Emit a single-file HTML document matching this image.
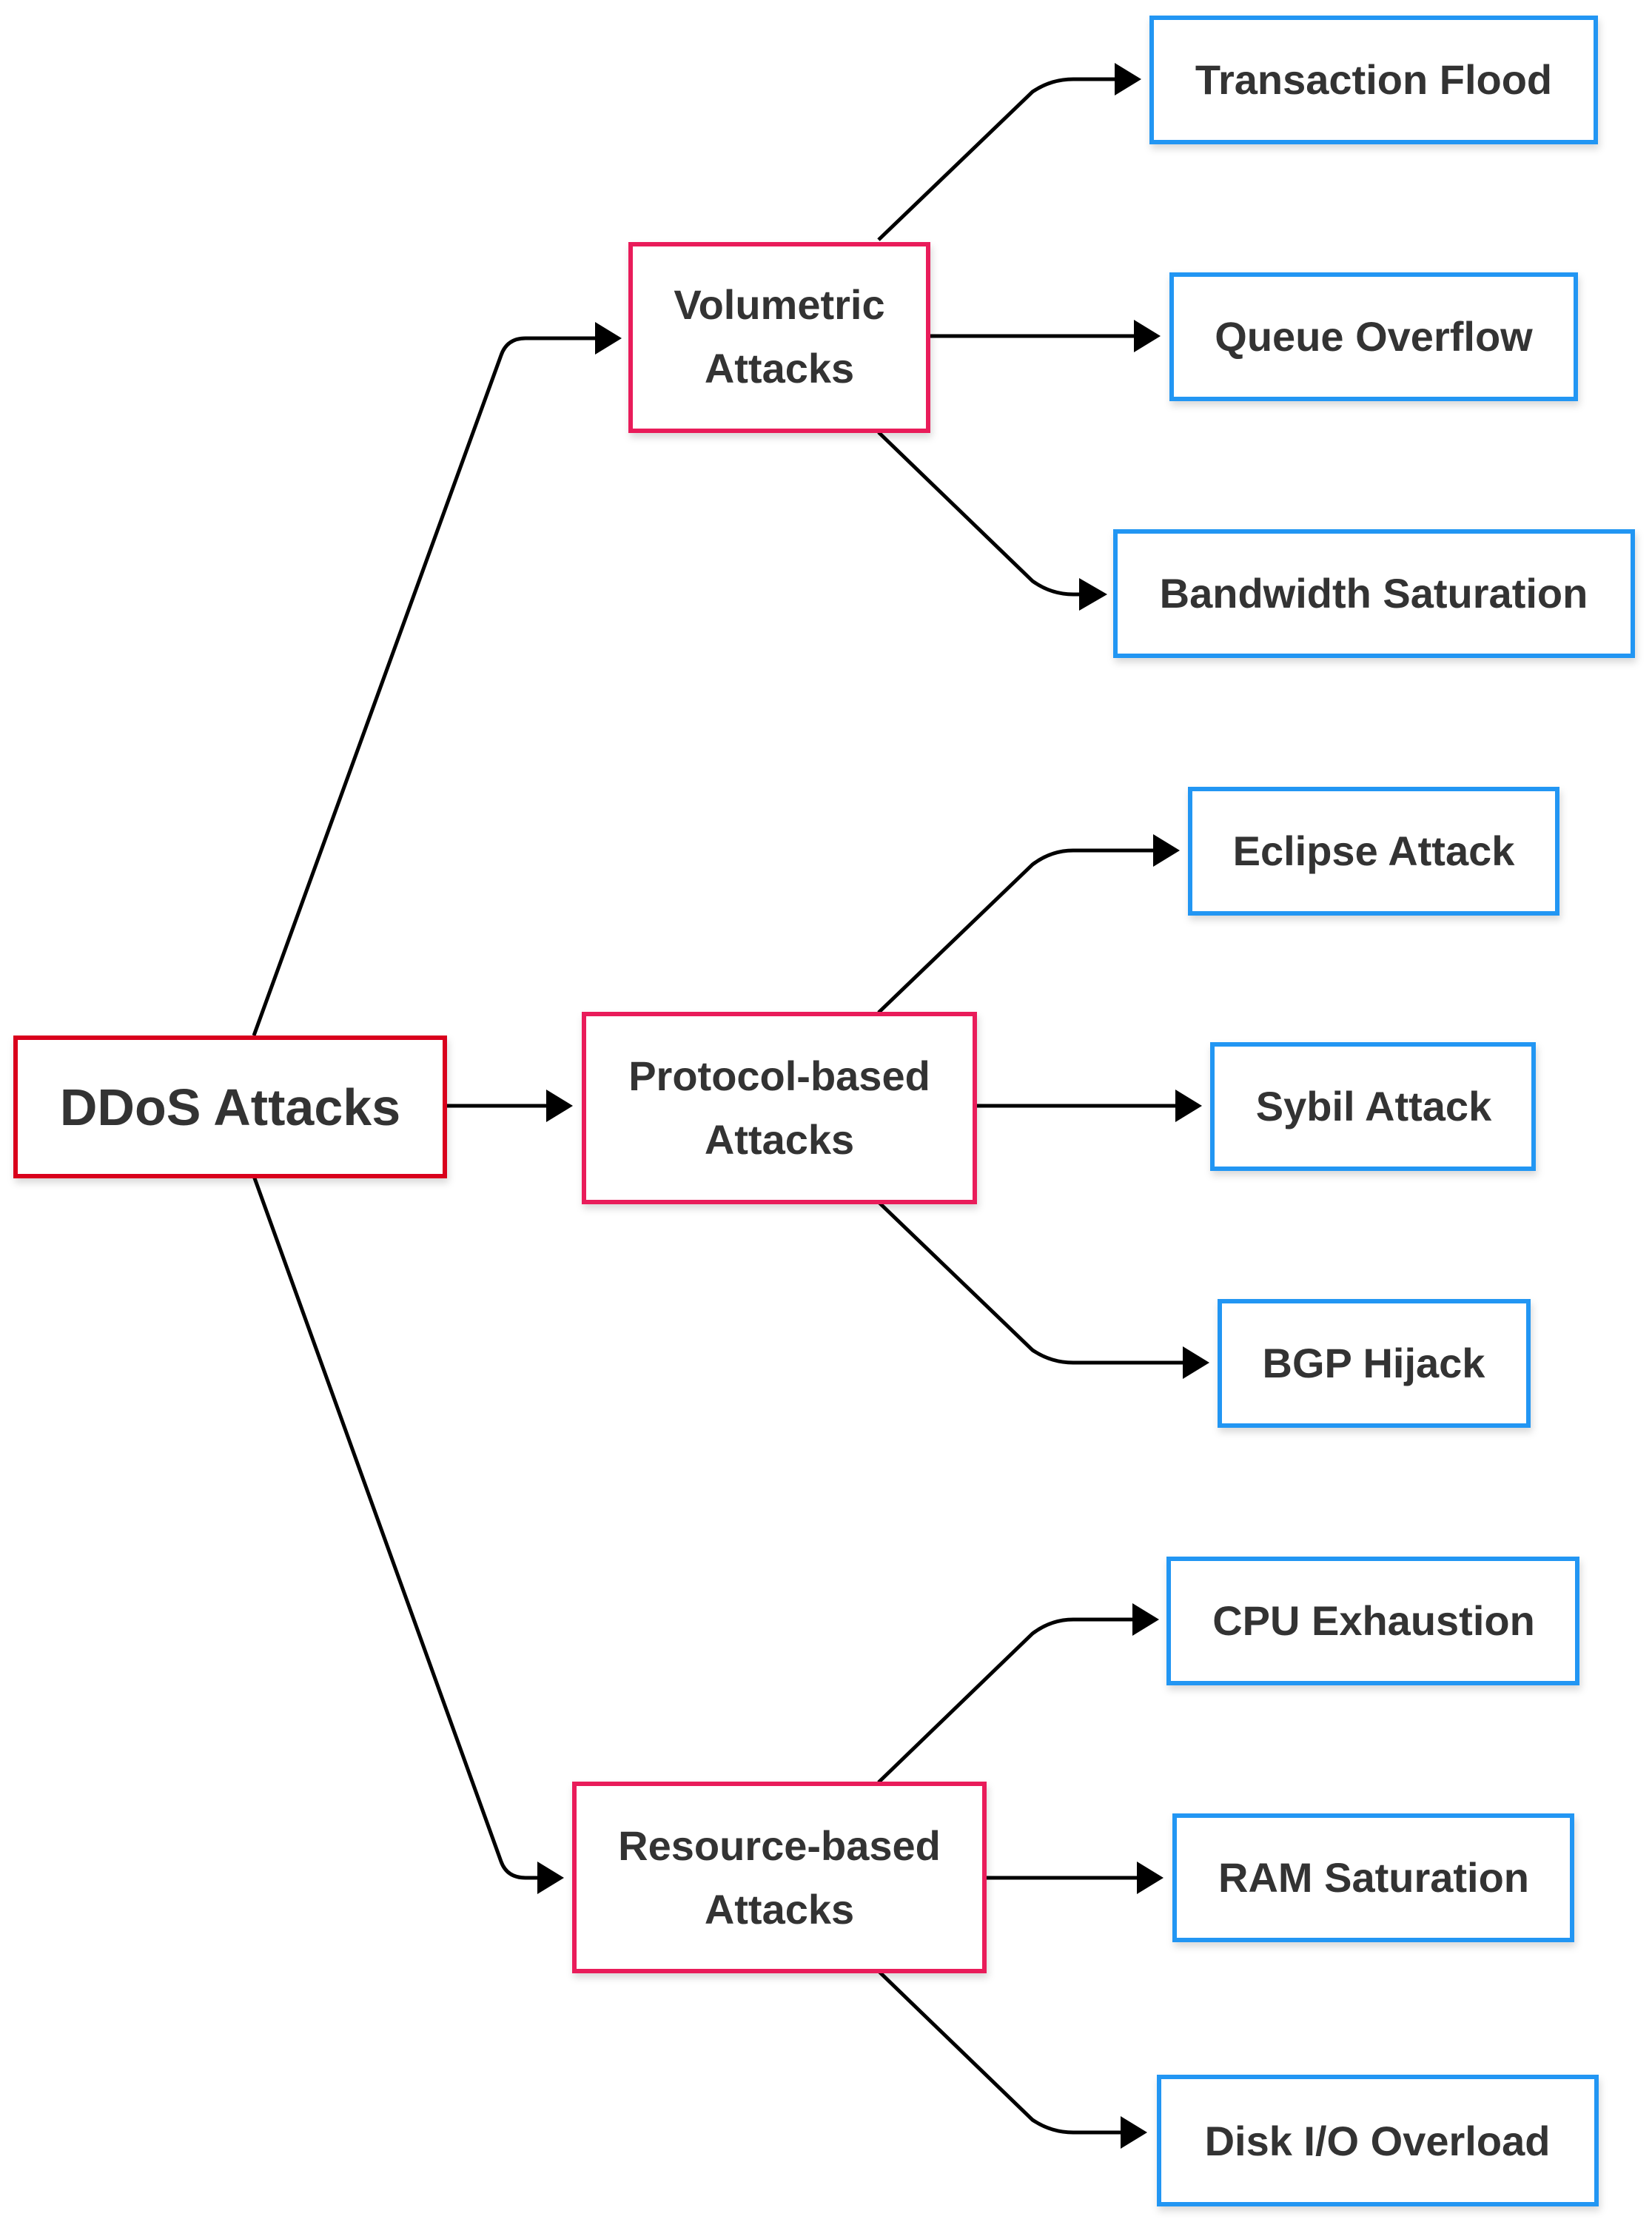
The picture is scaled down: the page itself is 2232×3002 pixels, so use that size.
<!DOCTYPE html>
<html><head><meta charset="utf-8"><style>
html,body{margin:0;padding:0;background:#fff;}
svg{display:block;}
text{font-family:"Liberation Sans",Arial,sans-serif;font-weight:bold;fill:#333;text-anchor:middle;}
</style></head><body>
<svg width="2232" height="3002" viewBox="0 0 2232 3002" xmlns="http://www.w3.org/2000/svg">
<defs>
<filter id="sh" x="-5%" y="-5%" width="115%" height="125%"><feDropShadow dx="2" dy="6" stdDeviation="5" flood-color="#000" flood-opacity="0.15"/></filter>
</defs>
<g fill="none" stroke="#000" stroke-width="5">
<path d="M343,1399 L677,480 Q685,457 710,457 L806,457"/>
<path d="M601,1494 L740,1494"/>
<path d="M343,1589 L677,2515 Q685,2537 710,2537 L728,2537"/>
<path d="M1187,324 L1395,124 Q1420,107 1450,107 L1508,107"/>
<path d="M1254,454 L1534,454"/>
<path d="M1187,584 L1395,785 Q1420,803 1450,803 L1460,803"/>
<path d="M1187,1368 L1395,1168 Q1420,1149 1450,1149 L1560,1149"/>
<path d="M1317,1494 L1590,1494"/>
<path d="M1187,1624 L1395,1824 Q1420,1841 1450,1841 L1600,1841"/>
<path d="M1187,2408 L1395,2207 Q1420,2188 1450,2188 L1532,2188"/>
<path d="M1330,2537 L1538,2537"/>
<path d="M1187,2663 L1395,2864 Q1420,2881 1450,2881 L1516,2881"/>
</g>
<g fill="#000">
<polygon points="804,435 840,457 804,479"/>
<polygon points="738,1472 774,1494 738,1516"/>
<polygon points="726,2515 762,2537 726,2559"/>
<polygon points="1506,85 1542,107 1506,129"/>
<polygon points="1532,432 1568,454 1532,476"/>
<polygon points="1458,781 1496,803 1458,825"/>
<polygon points="1558,1127 1594,1149 1558,1171"/>
<polygon points="1588,1472 1624,1494 1588,1516"/>
<polygon points="1598,1819 1634,1841 1598,1863"/>
<polygon points="1530,2166 1566,2188 1530,2210"/>
<polygon points="1536,2515 1572,2537 1536,2559"/>
<polygon points="1514,2859 1550,2881 1514,2903"/>
</g>
<g fill="#fff" stroke-width="6" filter="url(#sh)">
<rect x="21" y="1402" width="580" height="187" stroke="#d9001b"/>
<rect x="852" y="330" width="402" height="252" stroke="#e91e5a"/>
<rect x="789" y="1370" width="528" height="254" stroke="#e91e5a"/>
<rect x="776" y="2410" width="554" height="253" stroke="#e91e5a"/>
<g stroke="#2196f3">
<rect x="1556" y="24" width="600" height="168"/>
<rect x="1583" y="371" width="546" height="168"/>
<rect x="1507" y="718" width="699" height="168"/>
<rect x="1608" y="1066" width="496" height="168"/>
<rect x="1638" y="1411" width="434" height="168"/>
<rect x="1648" y="1758" width="417" height="168"/>
<rect x="1579" y="2106" width="552" height="168"/>
<rect x="1587" y="2453" width="537" height="168"/>
<rect x="1566" y="2806" width="591" height="172"/>
</g>
</g>
<text x="311" y="1520" style="font-size:70px">DDoS Attacks</text>
<g>
<text x="1053" y="431" style="font-size:56px">Volumetric</text>
<text x="1053" y="517" style="font-size:56px">Attacks</text>
<text x="1053" y="1473" style="font-size:56px">Protocol-based</text>
<text x="1053" y="1559" style="font-size:56px">Attacks</text>
<text x="1053" y="2513" style="font-size:56px">Resource-based</text>
<text x="1053" y="2599" style="font-size:56px">Attacks</text>
<text x="1856" y="127" style="font-size:56px">Transaction Flood</text>
<text x="1856" y="474" style="font-size:56px">Queue Overflow</text>
<text x="1856" y="821" style="font-size:56px">Bandwidth Saturation</text>
<text x="1856" y="1169" style="font-size:56px">Eclipse Attack</text>
<text x="1856" y="1514" style="font-size:56px">Sybil Attack</text>
<text x="1856" y="1861" style="font-size:56px">BGP Hijack</text>
<text x="1856" y="2209" style="font-size:56px">CPU Exhaustion</text>
<text x="1856" y="2556" style="font-size:56px">RAM Saturation</text>
<text x="1861" y="2912" style="font-size:56px">Disk I/O Overload</text>
</g>
</svg>
</body></html>
